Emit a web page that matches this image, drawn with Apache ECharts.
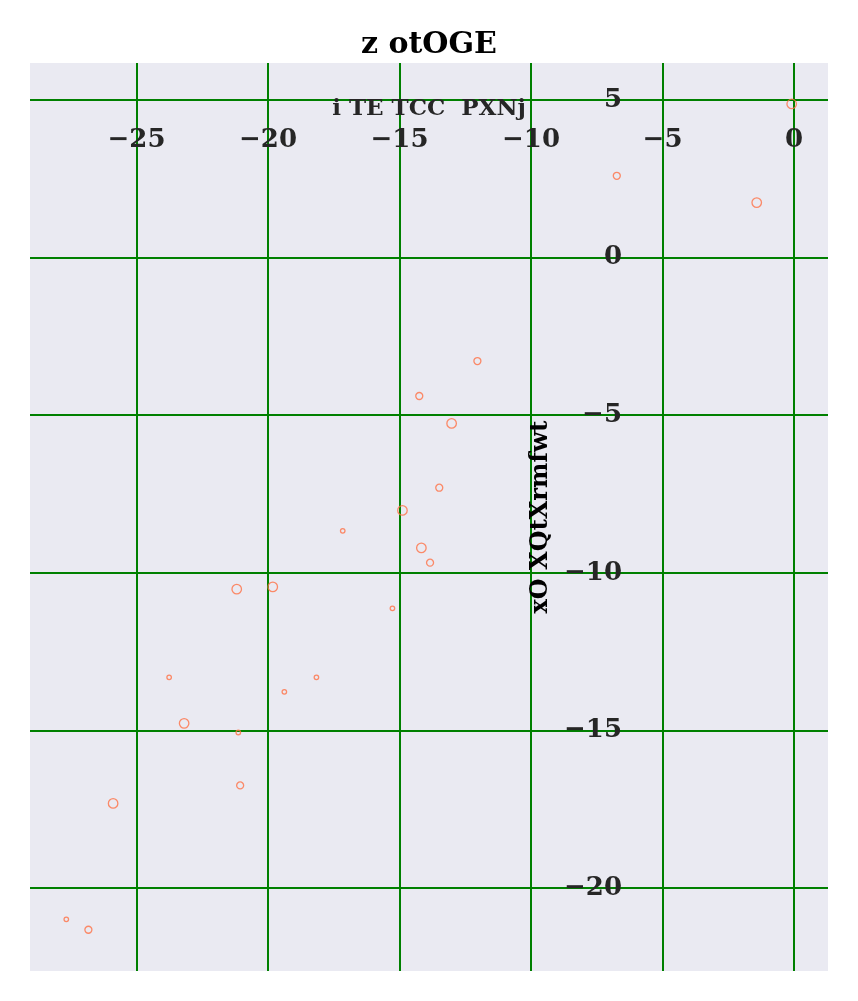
<!DOCTYPE html>
<html>
<head>
<meta charset="utf-8">
<script src="https://cdn.jsdelivr.net/npm/echarts@6/dist/echarts.min.js"></script>
<style>
html,body{margin:0;padding:0;background:#fff;}
#chart{width:858px;height:1001px;}
</style>
</head>
<body>
<div id="chart"></div>
<script>
const titleText = 'z otOGE';
const xName = 'i TE TCC  PXNj';
const yName = 'xO XQtXrmfwt';
const xValues = [-0.09, -6.74, -1.42, -12.04, -14.25, -13.02, -13.49, -14.89, -17.16, -14.17, -13.84, -21.19, -19.82, -15.27, -23.76, -18.16, -19.38, -23.19, -21.13, -21.06, -25.89, -27.67, -26.83];
const yValues = [4.88, 2.60, 1.75, -3.28, -4.39, -5.26, -7.30, -8.02, -8.67, -9.21, -9.68, -10.52, -10.45, -11.13, -13.32, -13.32, -13.78, -14.78, -15.07, -16.75, -17.32, -21.00, -21.33];
const sizes = [3, 2, 3, 2, 2, 3, 2, 3, 1, 3, 2, 3, 3, 1, 1, 1, 1, 3, 1, 2, 3, 1, 2];
const xRange = [-29.05, 1.29];
const yRange = [-22.64, 6.18];

const sizePx = {1: 4.5, 2: 7, 3: 9.5};
const data = xValues.map((x, i) => [x, yValues[i], sizes[i]]);
const fmt = v => String(v).replace('-', '\u2212');
const font = 'DejaVu Serif';

const chart = echarts.init(document.getElementById('chart'));
chart.setOption({
  animation: false,
  backgroundColor: '#ffffff',
  title: {
    text: titleText, left: 'center', top: 25,
    textStyle: {fontFamily: font, fontWeight: 'bold', fontSize: 30, color: '#000'}
  },
  grid: {left: 30, right: 30, top: 63, bottom: 30, show: true, backgroundColor: '#EAEAF2', borderWidth: 0},
  xAxis: {
    type: 'value', position: 'top', offset: -98,
    min: xRange[0], max: xRange[1],
    name: xName, nameLocation: 'middle', nameGap: 40,
    nameTextStyle: {fontFamily: font, fontWeight: 'bold', fontSize: 23, color: '#262626'},
    axisLine: {show: false}, axisTick: {show: false},
    axisLabel: {formatter: fmt, showMinLabel: false, showMaxLabel: false, margin: 8,
      fontFamily: font, fontWeight: 'bold', fontSize: 26, color: '#262626'},
    splitLine: {show: true, showMinLine: false, showMaxLine: false, lineStyle: {color: '#008000', width: 2}}
  },
  yAxis: {
    type: 'value', position: 'left', offset: -600,
    min: yRange[0], max: yRange[1],
    name: yName, nameLocation: 'middle', nameGap: 76,
    nameTextStyle: {fontFamily: font, fontWeight: 'bold', fontSize: 24, color: '#000'},
    axisLine: {show: false}, axisTick: {show: false},
    axisLabel: {formatter: fmt, showMinLabel: false, showMaxLabel: false, margin: 8,
      fontFamily: font, fontWeight: 'bold', fontSize: 26, color: '#262626'},
    splitLine: {show: true, showMinLine: false, showMaxLine: false, lineStyle: {color: '#008000', width: 2}}
  },
  series: [{
    type: 'scatter',
    data: data,
    symbol: 'circle',
    symbolSize: d => sizePx[d[2]],
    itemStyle: {color: 'transparent', borderColor: '#FF7045', borderWidth: 1.3}
  }]
});
</script>
</body>
</html>
